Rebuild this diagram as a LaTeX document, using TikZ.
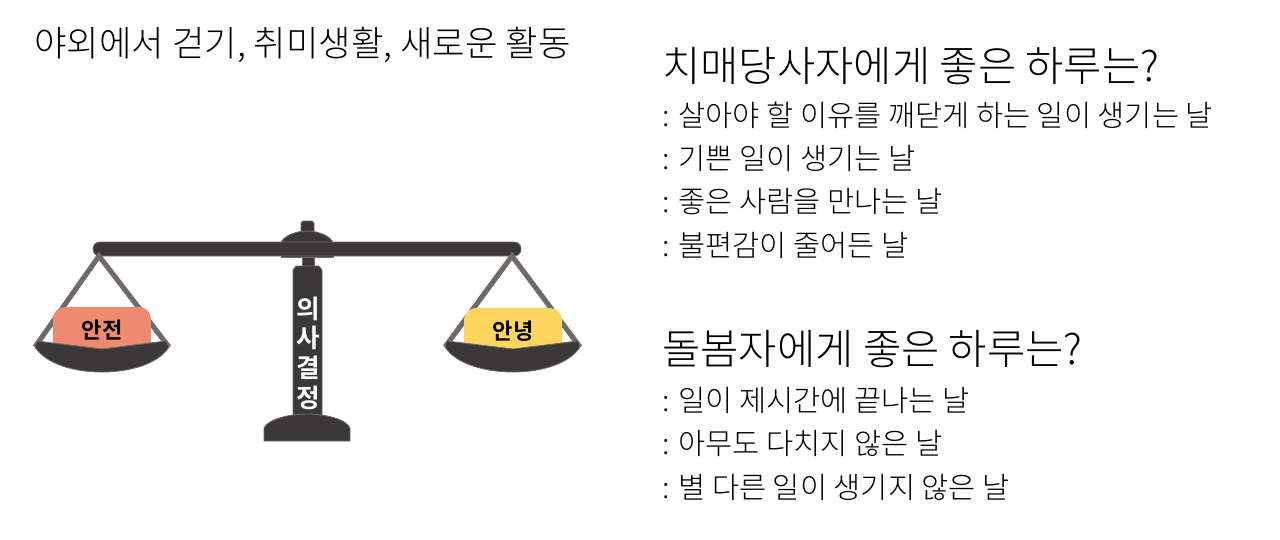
\documentclass[tikz,border=0pt]{standalone}
\usepackage{fontspec}
\setmainfont{Noto Sans CJK KR Light}
\newfontfamily\krbold{Noto Sans CJK KR Bold}
\usepackage{tikz}
\usetikzlibrary{positioning}
\definecolor{scaledark}{HTML}{3B3839}
\definecolor{ropegray}{HTML}{6F6A68}
\definecolor{safesalmon}{HTML}{EE8A70}
\definecolor{wellyellow}{HTML}{FFD55F}
\tikzstyle{heading} = [anchor=west, inner sep=0pt, font=\fontsize{23.7pt}{28pt}\selectfont]
\tikzstyle{topline} = [anchor=west, inner sep=0pt, font=\fontsize{20.1pt}{24pt}\selectfont]
\tikzstyle{item} = [anchor=west, inner sep=0pt, font=\fontsize{16.8pt}{20pt}\selectfont]
\tikzstyle{metal} = [fill=scaledark, draw=ropegray, line width=0.5pt]
\tikzstyle{rope} = [draw=ropegray, line width=2.9pt]
\tikzstyle{weight} = [minimum width=1.96cm, minimum height=0.92cm, inner sep=0pt, rounded corners=0.24cm, font=\krbold\fontsize{12.6pt}{15pt}\selectfont]
\tikzstyle{upright} = [text=white, inner sep=0pt, font=\krbold\fontsize{14.6pt}{18pt}\selectfont]

\begin{document}
\begin{tikzpicture}[x=0.02cm, y=-0.02cm]

\useasboundingbox (0,0) rectangle (1280,539);

% texts on the right
\node (title) [topline] at (34,45) {야외에서 걷기, 취미생활, 새로운 활동};
\node (head1) [heading] at (662,66) {치매당사자에게 좋은 하루는?};
\node (line1) [item] at (662,115) {: 살아야 할 이유를 깨닫게 하는 일이 생기는 날};
\node (line2) [item, below=0.87cm of line1.west, anchor=west] {: 기쁜 일이 생기는 날};
\node (line3) [item, below=0.87cm of line2.west, anchor=west] {: 좋은 사람을 만나는 날};
\node (line4) [item, below=0.87cm of line3.west, anchor=west] {: 불편감이 줄어든 날};
\node (head2) [heading] at (662,349) {돌봄자에게 좋은 하루는?};
\node (line5) [item] at (662,400) {: 일이 제시간에 끝나는 날};
\node (line6) [item, below=0.87cm of line5.west, anchor=west] {: 아무도 다치지 않은 날};
\node (line7) [item, below=0.87cm of line6.west, anchor=west] {: 별 다른 일이 생기지 않은 날};

% stand
\draw [metal] (301,232) -- (301,223) -- (303,221) -- (312,221) -- (314,223) -- (314,232) -- cycle;
\draw [metal] (281,243) .. controls (283,236) and (296,231) .. (307,231) .. controls (318,231) and (331,236) .. (333,243) -- cycle;
\draw [metal] (302,256) rectangle (314,267);
\draw [metal] (293,415) -- (293,270) -- (296,266) -- (319,266) -- (322,270) -- (322,415) -- cycle;
\draw [metal] (264,441) -- (264,428) .. controls (268,419) and (290,414) .. (307,414) .. controls (325,414) and (346,419) .. (350,428) -- (350,441) -- cycle;
\draw [metal] (281,254) rectangle (333,257);
\draw [metal, rounded corners=3.9pt] (93,242) rectangle (521,256);

\coordinate (lefthook) at (99,256);
\coordinate (lefttip1) at (35,347);
\coordinate (lefttip2) at (169,347);
\coordinate (righthook) at (512,256);
\coordinate (righttip1) at (445,347);
\coordinate (righttip2) at (580,347);

\draw [rope] (lefttip1) -- (lefthook) -- (lefttip2);
\draw [rope] (righttip1) -- (righthook) -- (righttip2);

% weights
\node (safe) [weight, fill=safesalmon] at (102,330) {안전};
\node (well) [weight, fill=wellyellow] at (513,331) {안녕};

% pans
\draw [metal] (37,341) -- (102,349) -- (166,341) -- (169,347) .. controls (158,364) and (130,372) .. (102,372) .. controls (74,372) and (46,364) .. (35,347) -- cycle;
\draw [metal] (447,341) -- (513,349) -- (578,341) -- (580,347) .. controls (569,364) and (541,372) .. (513,372) .. controls (485,372) and (456,364) .. (445,347) -- cycle;

% column text
\node (word1) [upright] at (308,309) {의};
\node (word2) [upright] at (308,338) {사};
\node (word3) [upright] at (308,368) {결};
\node (word4) [upright] at (308,398) {정};

\end{tikzpicture}
\end{document}
